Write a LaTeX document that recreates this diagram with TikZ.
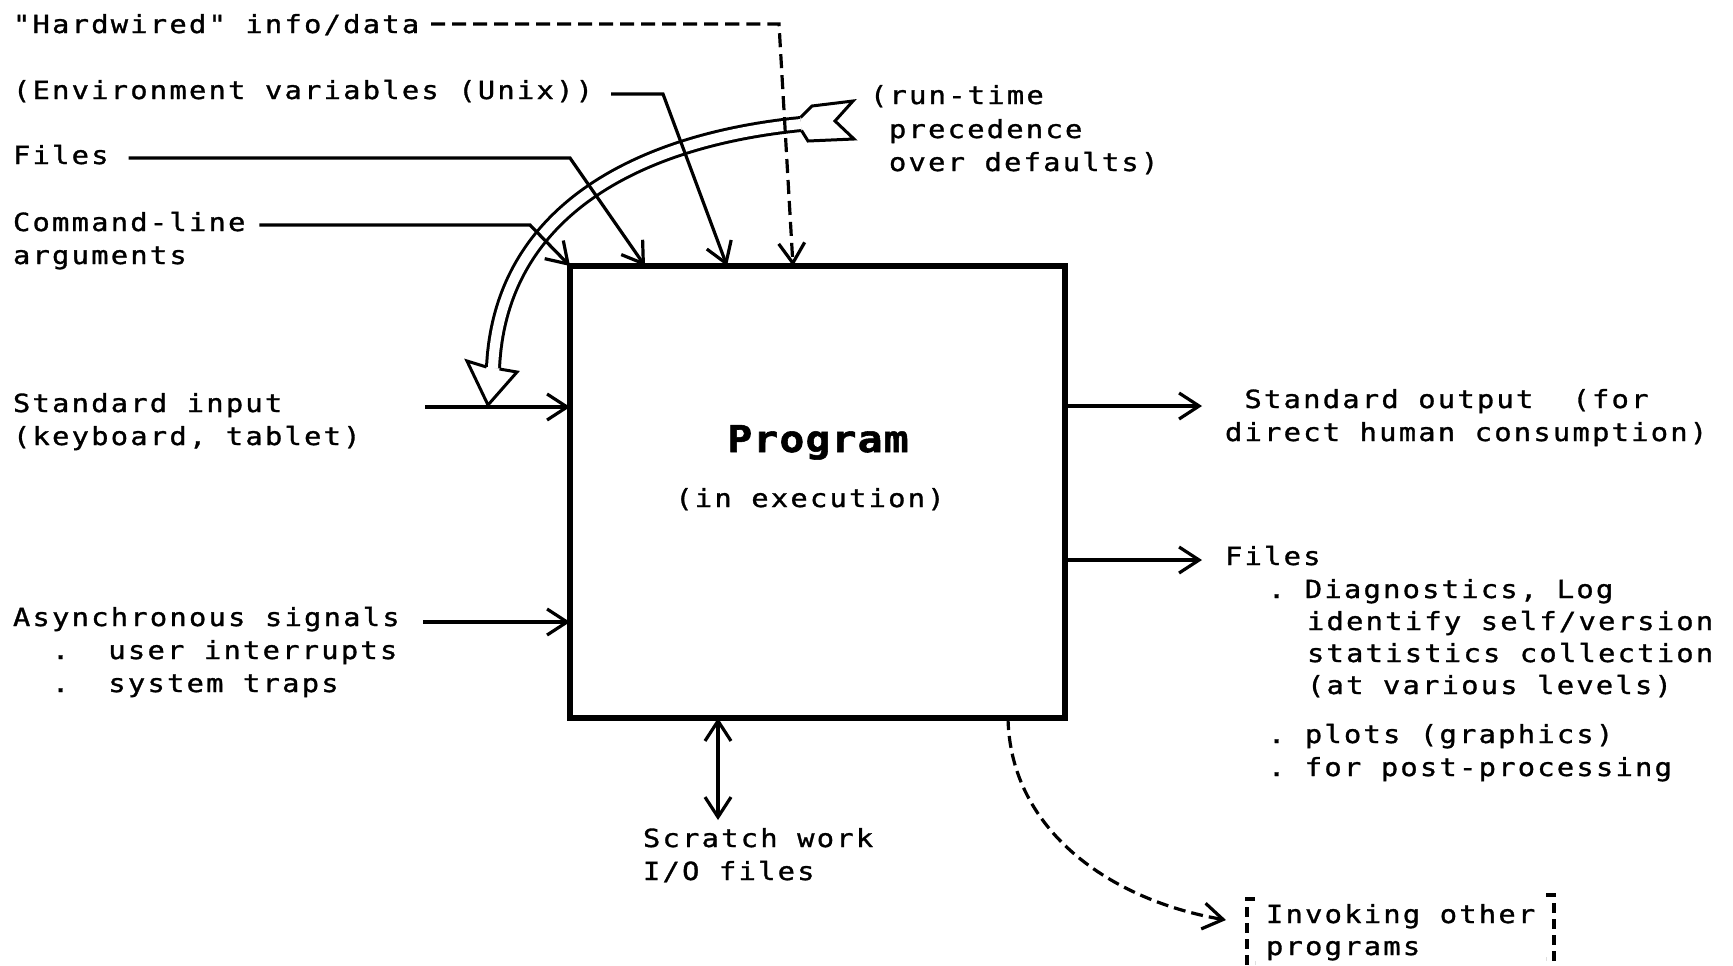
\documentclass[tikz,border=0pt]{standalone}
\usepackage{fontspec}
\newfontfamily\tw[LetterSpace=9,FakeStretch=1.15,FakeBold=1.2]{DejaVu Sans Mono}
\newfontfamily\twbig[LetterSpace=3,FakeStretch=1.12,FakeBold=1.5]{DejaVu Sans Mono}
\usetikzlibrary{arrows.meta,calc}
\begin{document}
\begin{tikzpicture}[x=0.5pt,y=-0.5pt,
  lbl/.style={inner sep=0pt, outer sep=0pt, anchor=base west, font=\tw\fontsize{12.5}{16.5}\selectfont},
  conn/.style={line width=1.6pt, -{Straight Barb[length=10pt,width=13pt]}},
  dconn/.style={conn, dash pattern=on 7pt off 3.5pt},
  band/.style={line width=1.5pt, double=white, double distance=5pt},
  hollow/.style={line width=1.5pt, fill=white, line join=miter},
  brk/.style={line width=1.6pt, dash pattern=on 5pt off 3pt}]
\useasboundingbox (0,0) rectangle (1733,965);

% hollow curved arrow (run-time precedence)
\draw[band] (801,124) .. controls (640,140) and (500,210) .. (493,368);
\draw[hollow] (486.5,367) -- (467,361) -- (488,405) -- (517,372) -- (499.5,369);
\draw[hollow] (800.5,117.5) -- (812,106) -- (853,101) -- (835,121) -- (854,139) -- (808,141) -- (801.5,130.5);

% main box
\node[draw, line width=3.3pt, minimum width=247.5pt, minimum height=226pt, inner sep=0pt, outer sep=0pt] (box) at (817.5,492) {};
\node[font=\twbig\bfseries\fontsize{18.5}{22}\selectfont, anchor=base, inner sep=0pt] (prog) at (818,452) {Program};
\node[lbl, anchor=base] (exe) at (810,507) {(in execution)};

% left labels
\node[lbl] (hw) at (13,33) {"Hardwired" info/data};
\node[lbl] (env) at (13,99) {(Environment variables (Unix))};
\node[lbl] (fin) at (13,164) {Files};
\node[lbl] (cmd1) at (13,231) {Command-line};
\node[lbl] (cmd2) at (13,264) {arguments};
\node[lbl] (si1) at (13,412) {Standard input};
\node[lbl] (si2) at (13,445) {(keyboard, tablet)};
\node[lbl] (as1) at (13,626) {Asynchronous signals};
\node[lbl] (as2) at (52,659) {.~~user interrupts};
\node[lbl] (as3) at (52,692) {.~~system traps};

% run-time note
\node[lbl] (rt1) at (870,104) {(run-time};
\node[lbl] (rt2) at (889,138) {precedence};
\node[lbl] (rt3) at (889,171) {over defaults)};

% right labels
\node[lbl] (so1) at (1244.5,408) {Standard output~ (for};
\node[lbl] (so2) at (1225,441) {direct human consumption)};
\node[lbl] (fo) at (1225,565) {Files};
\node[lbl] (fo1) at (1268,598) {.~Diagnostics, Log};
\node[lbl] (fo2) at (1307,630) {identify self/version};
\node[lbl] (fo3) at (1307,662) {statistics collection};
\node[lbl] (fo4) at (1307,694) {(at various levels)};
\node[lbl] (fo5) at (1268,743) {.~plots (graphics)};
\node[lbl] (fo6) at (1268,776) {.~for post-processing};

% bottom labels
\node[lbl] (sc1) at (643,847) {Scratch work};
\node[lbl] (sc2) at (643,880) {I/O files};
\node[lbl] (iv1) at (1266,923) {Invoking other};
\node[lbl] (iv2) at (1266,955) {programs};

% input connectors
\coordinate (hwc) at (779,24);
\coordinate (envc) at (663,94);
\coordinate (finc) at (570,158);
\coordinate (cmdc) at (530,225);
\draw[dconn] ($(hw.base east)+(12,-9)$) -- (hwc) -- ($(box.north west)+(223,0)$);
\draw[conn] ($(env.base east)+(18,-5)$) -- (envc) -- ($(box.north west)+(157,0)$);
\draw[conn] ($(fin.base east)+(20,-6)$) -- (finc) -- ($(box.north west)+(75,0)$);
\draw[conn] ($(cmd1.base east)+(14,-6)$) -- (cmdc) -- (box.north west);
\draw[conn] ($(box.west)+(-145,-85)$) -- ($(box.west)+(0,-85)$);
\draw[conn] ($(box.west)+(-147,130)$) -- ($(box.west)+(0,130)$);

% outputs
\draw[conn] ($(box.east)+(0,-86)$) -- ($(box.east)+(137,-86)$);
\draw[conn] ($(box.east)+(0,68)$) -- ($(box.east)+(137,68)$);
\draw[line width=1.6pt, {Straight Barb[length=10pt,width=13pt]}-{Straight Barb[length=10pt,width=13pt]}] ($(box.south west)+(148,0)$) -- ($(box.south west)+(148,102)$);
\draw[dconn, dash pattern=on 6pt off 3pt] ($(box.south west)+(438,0)$) .. controls (1010,830) and (1110,900) .. ($(iv1.base west)+(-40,-3)$);

% brackets around "Invoking other programs"
\draw[brk] (1255,899) -- (1247,899) -- (1247,963) -- (1255,963);
\draw[brk] (1546,895) -- (1554,895) -- (1554,959) -- (1546,959);
\end{tikzpicture}
\end{document}
